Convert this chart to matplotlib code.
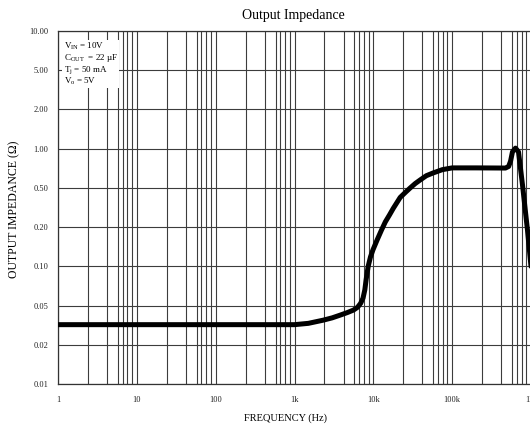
import numpy as np
import matplotlib
matplotlib.use("Agg")
import matplotlib.pyplot as plt
from matplotlib.ticker import FixedLocator, NullFormatter, FixedFormatter

# values
freq_hz = [1, 10, 100, 1000, 1500, 2300, 3000, 3800, 4700, 5600, 6300, 6900, 7400,
           7800, 8100, 8600, 9200, 9900, 11200, 12700, 14200, 16000, 17900, 21900,
           25500, 29400, 34000, 39400, 47000, 57700, 75000, 100000, 200000,
           474000, 520000, 550000, 582000, 636000, 694000, 780000, 902000, 1000000]
impedance_ohm = [0.032, 0.032, 0.032, 0.032, 0.033, 0.0355, 0.0375, 0.040, 0.0425, 0.045,
                 0.048, 0.052, 0.057, 0.066, 0.079, 0.100, 0.118, 0.134, 0.16, 0.19,
                 0.226, 0.265, 0.31, 0.40, 0.45, 0.50, 0.54, 0.576, 0.62, 0.652,
                 0.69, 0.712, 0.712, 0.71, 0.73, 0.80, 0.945, 1.01, 0.945, 0.527,
                 0.19, 0.10]

x_ticks = [1, 10, 100, 1e3, 1e4, 1e5, 1e6]
x_labels = ["1", "10", "100", "1k", "10k", "100k", "1M"]
y_ticks = [0.01, 0.02, 0.05, 0.1, 0.2, 0.5, 1, 2, 5, 10]
y_labels = ["0.01", "0.02", "0.05", "0.10", "0.20", "0.50", "1.00", "2.00", "5.00", "10.00"]
minor_mantissa = [2.4, 4.2, 5.75, 6.6, 7.6, 8.7]

L2, L5 = np.log10(2), np.log10(5)


# 1-2-5 paper: every step of the 1-2-5 series gets the same height
def fwd(v):
    v = np.maximum(np.asarray(v, dtype=float), 1e-12)
    lg = np.log10(v)
    d = np.floor(lg)
    r = lg - d
    q = np.where(r < L2, r / L2,
                 np.where(r < L5, 1 + (r - L2) / (L5 - L2), 2 + (r - L5) / (1 - L5)))
    return 3 * d + q


def inv(p):
    p = np.asarray(p, dtype=float)
    d = np.floor(p / 3)
    q = p - 3 * d
    r = np.where(q < 1, q * L2,
                 np.where(q < 2, L2 + (q - 1) * (L5 - L2), L5 + (q - 2) * (1 - L5)))
    return 10 ** (d + r)


plt.rcParams["font.family"] = ["Liberation Serif", "DejaVu Serif"]

fig = plt.figure(figsize=(5.3, 4.24), dpi=100)
ax = fig.add_axes([58 / 530, 1 - 384 / 424, 473 / 530, 353 / 424])

ax.set_xscale("log")
ax.set_yscale("function", functions=(fwd, inv))
ax.set_xlim(1, 1e6)
ax.set_ylim(0.01, 10)

ax.xaxis.set_major_locator(FixedLocator(x_ticks))
ax.xaxis.set_major_formatter(FixedFormatter(x_labels))
minor_x = [m * 10 ** k for k in range(6) for m in minor_mantissa]
ax.xaxis.set_minor_locator(FixedLocator(minor_x))
ax.xaxis.set_minor_formatter(NullFormatter())
ax.yaxis.set_major_locator(FixedLocator(y_ticks))
ax.yaxis.set_major_formatter(FixedFormatter(y_labels))
ax.yaxis.set_minor_locator(FixedLocator([]))

ax.grid(which="both", color="#3c3c3c", linewidth=0.8)
ax.tick_params(which="both", length=0, labelsize=6, colors="#222222")
ax.tick_params(axis="x", pad=9)
ax.tick_params(axis="y", pad=7)
for s in ax.spines.values():
    s.set_color("#333333")
    s.set_linewidth(0.9)

ax.plot(freq_hz, impedance_ohm, color="black", linewidth=3.6,
        solid_capstyle="round", solid_joinstyle="round", zorder=3)

ax.text(0.012, 0.972,
        "$\\mathregular{V_{IN}}$ = 10V\n"
        "$\\mathregular{C_{OUT}}$  = 22 µF\n"
        "$\\mathregular{T_{j}}$ = 50 mA\n"
        "$\\mathregular{V_{o}}$ = 5V",
        transform=ax.transAxes, ha="left", va="top", fontsize=6.5,
        linespacing=1.0, zorder=4,
        bbox=dict(facecolor="white", edgecolor="none", pad=1.0))

fig.text(293 / 530, 1 - 16 / 424, "Output Impedance", ha="center", va="center", fontsize=10)
fig.text(285 / 530, 1 - 418 / 424, "FREQUENCY (Hz)", ha="center", va="center", fontsize=7.5)
fig.text(14 / 530, 1 - 209 / 424, "OUTPUT IMPEDANCE (Ω)", ha="center", va="center",
         rotation=90, fontsize=8.5)

fig.savefig("out.png", dpi=100)
